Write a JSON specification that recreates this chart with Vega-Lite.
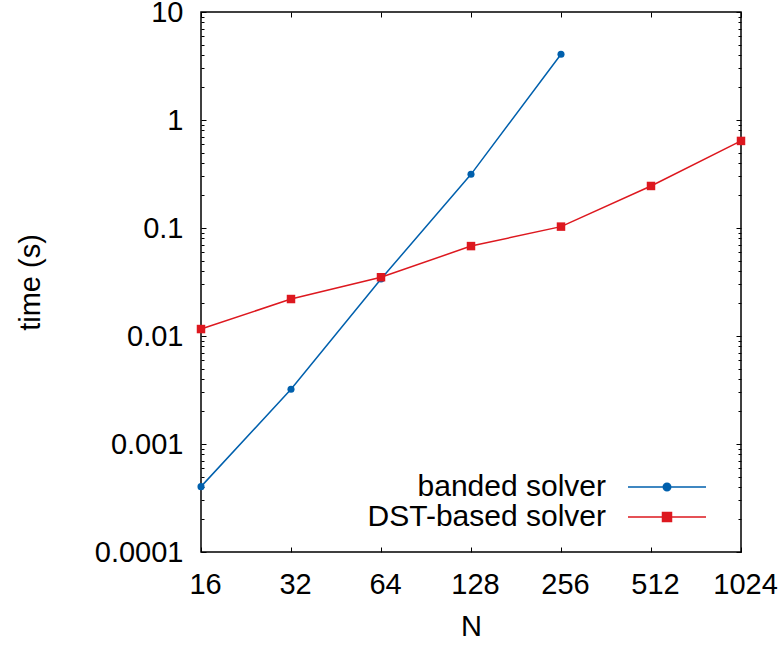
{
  "$schema": "https://vega.github.io/schema/vega-lite/v6.json",
  "width": 540,
  "height": 540,
  "autosize": {"type": "none"},
  "padding": {"left": 201, "top": 12, "right": 39, "bottom": 95},
  "background": "white",
  "data": {
    "values": [
      {"series": "banded solver", "N": 16, "time": 0.000403},
      {"series": "banded solver", "N": 32, "time": 0.00321},
      {"series": "banded solver", "N": 64, "time": 0.0337},
      {"series": "banded solver", "N": 128, "time": 0.314},
      {"series": "banded solver", "N": 256, "time": 4.06},
      {"series": "DST-based solver", "N": 16, "time": 0.0116},
      {"series": "DST-based solver", "N": 32, "time": 0.022},
      {"series": "DST-based solver", "N": 64, "time": 0.035},
      {"series": "DST-based solver", "N": 128, "time": 0.068},
      {"series": "DST-based solver", "N": 256, "time": 0.103},
      {"series": "DST-based solver", "N": 512, "time": 0.245},
      {"series": "DST-based solver", "N": 1024, "time": 0.64}
    ]
  },
  "config": {
    "view": {"stroke": "black", "strokeWidth": 1.5},
    "font": "Liberation Sans",
    "axis": {
      "labelFont": "Liberation Sans",
      "labelFontSize": 29,
      "labelColor": "black",
      "titleFont": "Liberation Sans",
      "titleFontSize": 29,
      "titleColor": "black",
      "titleFontWeight": "normal",
      "domain": false,
      "grid": false,
      "tickColor": "black",
      "tickWidth": 1
    },
    "legend": {
      "labelFont": "Liberation Sans",
      "labelFontSize": 30,
      "labelColor": "black",
      "labelLimit": 400,
      "title": null,
      "orient": "none",
      "legendX": 451,
      "legendY": 460,
      "padding": 0,
      "symbolSize": 100,
      "symbolOffset": 0,
      "labelAlign": "right",
      "labelOffset": -76,
      "rowPadding": -1,
      "symbolStrokeWidth": 1.5
    }
  },
  "resolve": {"axis": {"x": "independent", "y": "independent"}},
  "layer": [
    {
      "mark": {"type": "line", "strokeWidth": 1.5},
      "encoding": {
        "x": {
          "field": "N", "type": "quantitative",
          "scale": {"type": "log", "base": 2, "domain": [16, 1024], "nice": false},
          "axis": {
            "orient": "bottom",
            "title": "N",
            "values": [16, 32, 64, 128, 256, 512, 1024],
            "format": "d",
            "tickSize": -5,
            "labelPadding": 23,
            "labelOffset": 4,
            "labelFlush": false,
            "labelOverlap": false,
            "titleX": 270,
            "titleY": 74,
            "titleAlign": "center",
            "titleBaseline": "middle"
          }
        },
        "y": {
          "field": "time", "type": "quantitative",
          "scale": {"type": "log", "domain": [0.0001, 10], "nice": false},
          "axis": {
            "orient": "left",
            "title": "time (s)",
            "values": [0.0001, 0.0002, 0.0003, 0.0004, 0.0005, 0.0006, 0.0007, 0.0008, 0.0009,
                       0.001, 0.002, 0.003, 0.004, 0.005, 0.006, 0.007, 0.008, 0.009,
                       0.01, 0.02, 0.03, 0.04, 0.05, 0.06, 0.07, 0.08, 0.09,
                       0.1, 0.2, 0.3, 0.4, 0.5, 0.6, 0.7, 0.8, 0.9,
                       1, 2, 3, 4, 5, 6, 7, 8, 9, 10],
            "labelExpr": "abs(log(datum.value)/LN10 - round(log(datum.value)/LN10)) < 0.001 ? '' + datum.value : ''",
            "tickSize": {"condition": {"test": "abs(log(datum.value)/LN10 - round(log(datum.value)/LN10)) < 0.001", "value": -5}, "value": -3},
            "labelPadding": 23,
            "labelFlush": false,
            "labelOverlap": false,
            "titleAngle": -90,
            "titleX": -171,
            "titleY": 270,
            "titleAlign": "center",
            "titleBaseline": "middle"
          }
        },
        "color": {
          "field": "series", "type": "nominal",
          "scale": {"domain": ["banded solver", "DST-based solver"], "range": ["#0060ad", "#dd181f"]}
        }
      }
    },
    {
      "transform": [{"filter": "datum.series === 'banded solver'"}],
      "mark": {"type": "point", "shape": "circle", "filled": true, "opacity": 1, "size": 50},
      "encoding": {
        "x": {
          "field": "N", "type": "quantitative",
          "axis": {
            "orient": "top",
            "title": null,
            "labels": false,
            "values": [16, 32, 64, 128, 256, 512, 1024],
            "tickSize": -5
          }
        },
        "y": {
          "field": "time", "type": "quantitative",
          "axis": {
            "orient": "right",
            "title": null,
            "labels": false,
            "values": [0.0001, 0.0002, 0.0003, 0.0004, 0.0005, 0.0006, 0.0007, 0.0008, 0.0009,
                       0.001, 0.002, 0.003, 0.004, 0.005, 0.006, 0.007, 0.008, 0.009,
                       0.01, 0.02, 0.03, 0.04, 0.05, 0.06, 0.07, 0.08, 0.09,
                       0.1, 0.2, 0.3, 0.4, 0.5, 0.6, 0.7, 0.8, 0.9,
                       1, 2, 3, 4, 5, 6, 7, 8, 9, 10],
            "tickSize": {"condition": {"test": "abs(log(datum.value)/LN10 - round(log(datum.value)/LN10)) < 0.001", "value": -5}, "value": -3}
          }
        },
        "color": {"field": "series", "type": "nominal"}
      }
    },
    {
      "transform": [{"filter": "datum.series === 'DST-based solver'"}],
      "mark": {"type": "point", "shape": "square", "filled": true, "opacity": 1, "size": 72},
      "encoding": {
        "x": {"field": "N", "type": "quantitative", "axis": null},
        "y": {"field": "time", "type": "quantitative", "axis": null},
        "color": {"field": "series", "type": "nominal"}
      }
    },
    {
      "transform": [{"filter": "datum.N < 0"}],
      "mark": {"type": "point", "filled": true, "opacity": 1, "size": 100},
      "encoding": {
        "x": {"field": "N", "type": "quantitative", "axis": null},
        "y": {"field": "time", "type": "quantitative", "axis": null},
        "color": {"field": "series", "type": "nominal"},
        "shape": {
          "field": "series", "type": "nominal",
          "scale": {
            "domain": ["banded solver", "DST-based solver"],
            "range": [
              "M-7.8,0H7.8M-0.75,0A0.75,0.75 0 1,0 0.75,0A0.75,0.75 0 1,0 -0.75,0Z",
              "M-7.8,0H7.8M-0.9,-0.9H0.9V0.9H-0.9Z"
            ]
          },
          "legend": {
            "encode": {
              "symbols": {
                "update": {
                  "fill": {"signal": "datum.value === 'banded solver' ? '#0060ad' : '#dd181f'"},
                  "stroke": {"signal": "datum.value === 'banded solver' ? '#0060ad' : '#dd181f'"},
                  "strokeWidth": {"value": 1.5},
                  "size": {"value": 100},
                  "opacity": {"value": 1}
                }
              }
            }
          }
        }
      }
    }
  ]
}
